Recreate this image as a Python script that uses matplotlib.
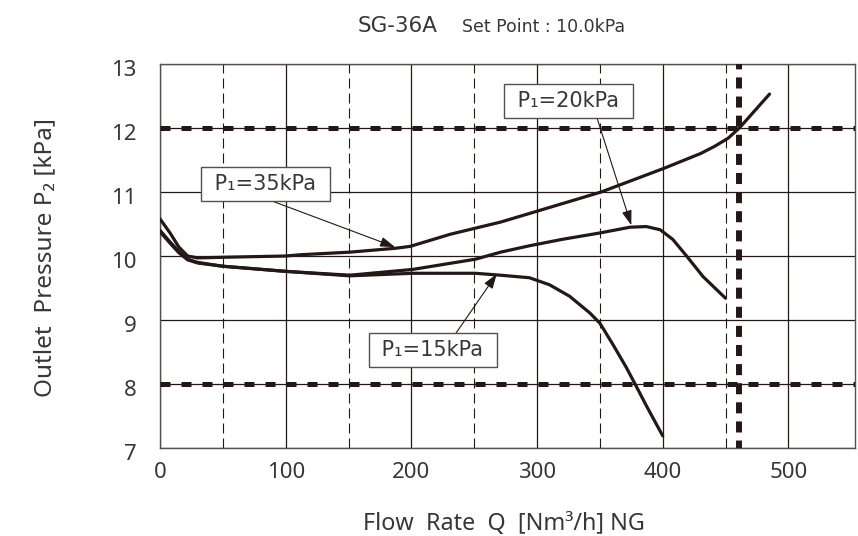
import matplotlib
matplotlib.use("Agg")
import matplotlib.pyplot as plt
from matplotlib.ticker import FixedLocator
from matplotlib.transforms import ScaledTranslation

plt.rcParams['font.family'] = ['Noto Sans', 'DejaVu Sans']

INK = '#231815'
TXT = '#3a3536'

# ---- data ----
q35 = [0, 8, 15, 22, 30, 50, 100, 112, 151, 187, 199, 231, 271, 300, 351, 401, 430, 441, 452, 461, 485]
p35 = [10.58, 10.36, 10.14, 10.00, 9.97, 9.98, 10.00, 10.02, 10.06, 10.12, 10.15, 10.34, 10.53, 10.70, 11.00, 11.37, 11.60, 11.71, 11.84, 12.00, 12.53]

q20 = [0, 8, 15, 22, 30, 50, 100, 151, 201, 251, 271, 294, 320, 350, 374, 387, 398, 408, 419, 432, 450]
p20 = [10.40, 10.22, 10.07, 9.95, 9.90, 9.84, 9.76, 9.70, 9.79, 9.95, 10.06, 10.16, 10.26, 10.36, 10.45, 10.46, 10.41, 10.26, 10.00, 9.68, 9.34]

q15 = [0, 8, 15, 22, 30, 50, 100, 151, 201, 251, 271, 294, 310, 326, 342, 350, 360, 371, 378, 387, 400]
p15 = [10.38, 10.20, 10.05, 9.94, 9.89, 9.84, 9.76, 9.69, 9.73, 9.73, 9.70, 9.66, 9.55, 9.37, 9.11, 8.95, 8.63, 8.26, 8.00, 7.66, 7.19]

limits_p = [12.0, 8.0]
limit_q = 461

labels = ['P\u2081=35kPa', 'P\u2081=20kPa', 'P\u2081=15kPa']
label_xy = [(84, 11.12), (325, 12.42), (217, 8.53)]
arrow_tail = [(89, 10.86), (348, 12.14), (235, 8.78)]
arrow_head = [(187, 10.14), (375, 10.48), (268, 9.72)]

xticks = [0, 100, 200, 300, 400, 500]
xminor = [50, 150, 250, 350, 450]
yticks = [7, 8, 9, 10, 11, 12, 13]

# ---- figure ----
fig = plt.figure(figsize=(8.58, 5.36), dpi=100)
ax = fig.add_axes([160 / 858, 1 - 448 / 536, 695 / 858, 384 / 536])
ax.set_xlim(0, 553)
ax.set_ylim(7, 13)

ax.set_xticks(xticks)
ax.xaxis.set_minor_locator(FixedLocator(xminor))
ax.set_yticks(yticks)
ax.tick_params(which='both', length=0)
ax.tick_params(axis='x', pad=10, labelsize=16, labelcolor=TXT)
ax.tick_params(axis='y', pad=17, labelsize=16, labelcolor=TXT)
for lab in ax.get_yticklabels():
    lab.set_transform(lab.get_transform() + ScaledTranslation(0, -0.04, fig.dpi_scale_trans))

ax.grid(which='major', color=INK, lw=0.9, ls='-')
ax.grid(which='minor', axis='x', color=INK, lw=0.8, ls=(0, (9, 4.5)))
ax.set_axisbelow(True)
for s in ax.spines.values():
    s.set_color('#55504f')
    s.set_linewidth(1.0)

for yv in limits_p:
    ax.axhline(yv, color=INK, lw=3.6, ls=(0, (2.0, 2.2)), zorder=3)
ax.axvline(limit_q, color=INK, lw=4.3, ls=(0.6, (1.85, 1.35)), zorder=3)

for q, p in [(q35, p35), (q20, p20), (q15, p15)]:
    ax.plot(q, p, color=INK, lw=2.3, solid_joinstyle='round', solid_capstyle='round', zorder=4)

for lab, xy, tail, head in zip(labels, label_xy, arrow_tail, arrow_head):
    ax.annotate('', xy=head, xytext=tail,
                arrowprops=dict(arrowstyle='-|>,head_length=0.9,head_width=0.3',
                                color=INK, lw=0.8, shrinkA=0, shrinkB=0), zorder=5)
    ax.text(xy[0], xy[1], ' ' + lab + ' ', ha='center', va='center', fontsize=15, color=TXT,
            family='DejaVu Sans',
            bbox=dict(boxstyle='square,pad=0.33', fc='white', ec='#55504f', lw=1.0),
            zorder=6)

fig.text(45 / 858, 1 - 257 / 536, 'Outlet  Pressure P\u2082 [kPa]', rotation=90,
         ha='center', va='center', fontsize=17.5, color=TXT)
fig.text(504 / 858, 1 - 530 / 536, 'Flow  Rate  Q  [\u039dm\u00b3/h] NG', ha='center', va='baseline',
         fontsize=16.8, color=TXT)

fig.text(358 / 858, 1 - 32 / 536, 'SG-36A', ha='left', va='baseline', fontsize=15.5,
         color=TXT, family='DejaVu Sans')
fig.text(462 / 858, 1 - 32 / 536, 'Set Point : 10.0kPa', ha='left', va='baseline', fontsize=12.5,
         color=TXT, family='DejaVu Sans')

fig.savefig('out.png', dpi=100)
